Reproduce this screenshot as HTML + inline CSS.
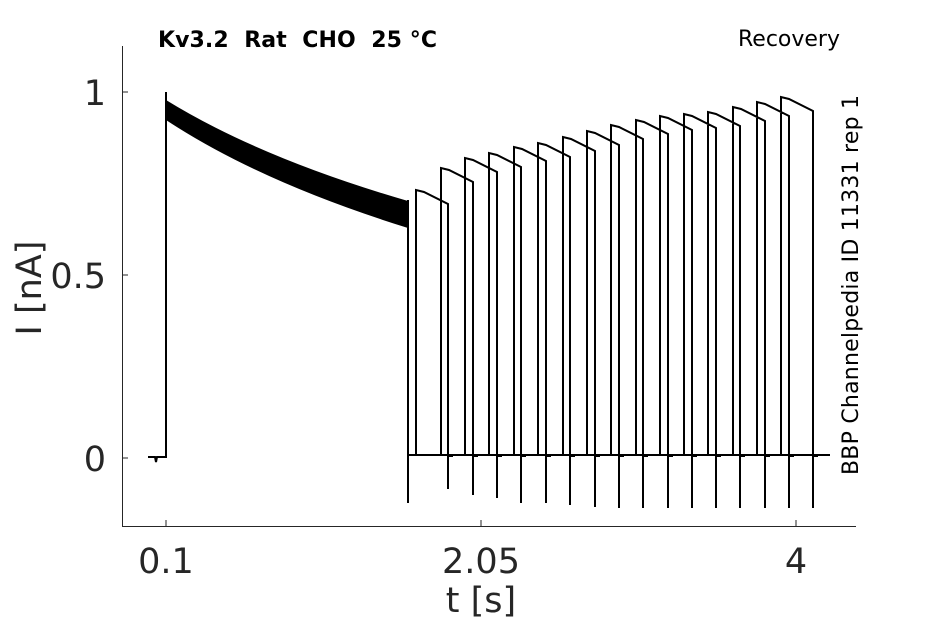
<!DOCTYPE html>
<html><head><style>body{margin:0;background:#fff}</style></head><body>
<svg width="945" height="624" xmlns="http://www.w3.org/2000/svg" font-family="DejaVu Sans, Liberation Sans, sans-serif">
<rect width="945" height="624" fill="#fff"/>
<g stroke="#262626" stroke-width="1" fill="none">
<path d="M122.5 46V526.5H856"/>
<path d="M122 92h6M122 275h6M122 458h6M166 526v-6M481 526v-6M796 526v-6"/>
</g>
<g fill="#262626" font-size="35" text-anchor="end">
<text x="106" y="105">1</text><text x="106" y="288">0.5</text><text x="106" y="471">0</text>
</g>
<g fill="#262626" font-size="35" text-anchor="middle">
<text x="166" y="573">0.1</text><text x="481" y="573">2.05</text><text x="796" y="573">4</text>
<text x="481" y="612">t [s]</text>
<text transform="translate(41,288) rotate(-90)">I [nA]</text>
</g>
<text x="158" y="47" font-size="22" font-weight="bold" xml:space="preserve" textLength="279">Kv3.2  Rat  CHO  25 °C</text>
<text x="840" y="46" font-size="22" text-anchor="end">Recovery</text>
<text transform="translate(858,285) rotate(-90)" font-size="22" text-anchor="middle" textLength="380">BBP Channelpedia ID 11331 rep 1</text>
<path d="M166 100 Q260 158 408 201 V228 Q260 182 166 120Z" fill="#000"/>
<g stroke="#000" stroke-width="2" fill="none">
<path d="M148 457H155L156 462L157 457H166V92"/>
<path d="M408 200V503M408 455H830"/>
<path d="M416 456V190L424 192L448 204V489M448 456h5
M441 456V168L449 170L473 182V495M473 456h5
M465 456V158L473 160L497 172V498M497 456h5
M489 456V153L497 155L521 167V503M521 456h5
M514 456V147L522 149L546 161V503M546 456h5
M538 456V143L546 145L570 157V505M570 456h5
M563 456V137L571 139L595 151V507M595 456h5
M587 456V131L595 133L619 145V508M619 456h5
M611 456V125L619 127L643 139V508M643 456h5
M636 456V120L644 122L668 134V508M668 456h5
M660 456V116L668 118L692 130V508M692 456h5
M684 456V114L692 116L716 128V508M716 456h5
M708 456V112L716 114L740 126V508M740 456h5
M733 456V107L741 109L765 121V508M765 456h5
M757 456V102L765 104L789 116V508M789 456h5
M781 456V97L789 99L813 111V508M813 456h5"/>
</g>
</svg>
</body></html>
